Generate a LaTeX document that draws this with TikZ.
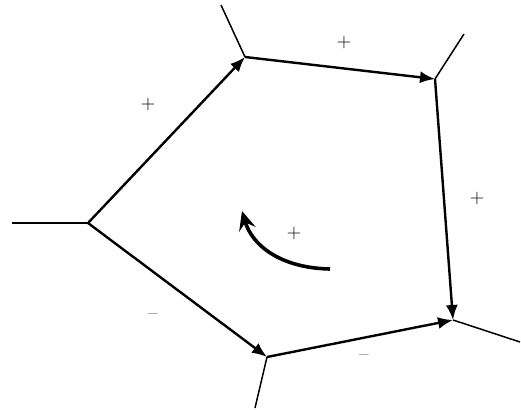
\documentclass[tikz,border=0pt]{standalone}
\usetikzlibrary{arrows.meta}
\begin{document}
\begin{tikzpicture}[x=1pt,y=-1pt,
  edge/.style={line width=2.4pt,-{Latex[length=15pt,width=12pt]}},
  stub/.style={line width=1.5pt},
  lbl/.style={font=\fontsize{20}{22}\selectfont,inner sep=0pt}]
\useasboundingbox (0,0) rectangle (521,409);
\coordinate (A) at (88,223);
\coordinate (B) at (245,57);
\coordinate (C) at (435,79);
\coordinate (D) at (453,320);
\coordinate (E) at (267,357);
\coordinate (a) at (12,223);
\coordinate (b) at (221,5);
\coordinate (c) at (464,34);
\coordinate (d) at (520,342);
\coordinate (e) at (255,408);
\draw[stub] (A) -- (a);
\draw[stub] (B) -- (b);
\draw[stub] (C) -- (c);
\draw[stub] (D) -- (d);
\draw[stub] (E) -- (e);
\draw[edge] (A) -- (B);
\draw[edge] (B) -- (C);
\draw[edge] (C) -- (D);
\draw[edge] (A) -- (E);
\draw[edge] (E) -- (D);
\coordinate (s) at (330,269);
\coordinate (t) at (242,211);
\draw[line width=3.6pt,-{Stealth[length=19pt,width=17pt,inset=7pt]}] (s) .. controls (280,268) and (252,245) .. (t);
\node[lbl] (p1) at (148,105) {+};
\node[lbl] (p2) at (344,43) {+};
\node[lbl] (p3) at (477,199) {+};
\node[lbl] (p4) at (294,234) {+};
\node[lbl] (m1) at (153,317) {--};
\node[lbl] (m2) at (364,358) {--};
\end{tikzpicture}
\end{document}
